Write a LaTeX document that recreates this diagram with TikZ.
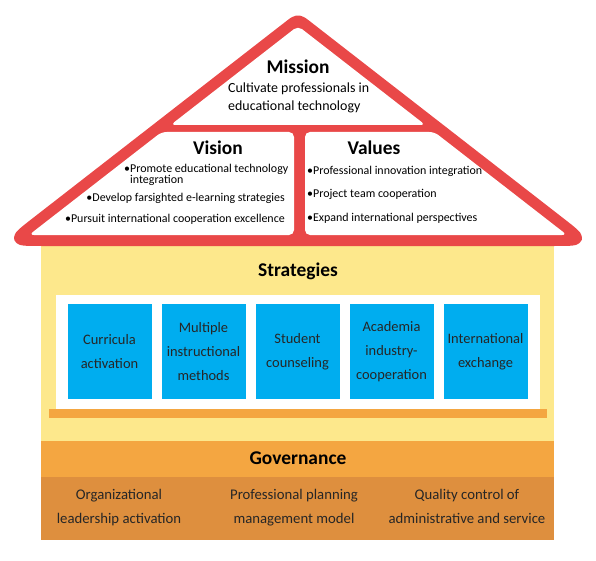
\documentclass[tikz,border=0pt]{standalone}
\usepackage{fontspec}
\setmainfont{Carlito}
\definecolor{roofred}{RGB}{233,72,72}
\definecolor{wallyellow}{RGB}{253,232,140}
\definecolor{govorange}{RGB}{244,166,65}
\definecolor{govdark}{RGB}{222,143,62}
\definecolor{boxblue}{RGB}{0,173,239}
\definecolor{txtgray}{RGB}{38,38,38}
\begin{document}
\begin{tikzpicture}[x=1bp,y=-1bp,
  title/.style={font=\fontsize{19.5}{22}\selectfont\bfseries, text=black, inner sep=0pt},
  body/.style={font=\fontsize{14}{18}\selectfont, text=black, inner sep=0pt},
  bul/.style={font=\fontsize{12}{13}\selectfont, text=black, inner sep=0pt},
  pillar/.style={fill=boxblue, minimum width=84bp, minimum height=95bp, inner sep=0pt, align=center, font=\fontsize{14.5}{24}\selectfont, text=txtgray},
  govtext/.style={font=\fontsize{14.8}{24}\selectfont, text=txtgray, align=center, inner sep=0pt},
  whitepart/.style={fill=white, rounded corners=5bp}]
\useasboundingbox (0,0) rectangle (596,561);
% walls
\fill[wallyellow] (41,246) rectangle (554,441);
\fill[white] (56,295) rectangle (540,409);
\fill[govorange] (49,409) rectangle (547,418);
\fill[govorange] (41,441) rectangle (554,477);
\fill[govdark] (41,477) rectangle (554,540);
% roof
\coordinate (A) at (298,19);
\coordinate (L) at (13,240.5);
\coordinate (R) at (583,240.5);
\draw[roofred, fill=roofred, line width=11bp, line join=round]
  (307,26) -- (560.1,222.7) .. controls (R) .. (554,240.5)
  -- (42,240.5) .. controls (L) .. (35.9,222.7)
  -- (289,26) .. controls (A) .. (307,26) -- cycle;
\fill[whitepart] (298,26) -- (425.4,125) -- (170.6,125) -- cycle;
\fill[whitepart] (161.6,132) -- (294,132) -- (294,235) -- (29,235) -- cycle;
\fill[whitepart] (305,132) -- (434.4,132) -- (567,235) -- (305,235) -- cycle;
% roof texts
\node[title] (mission) at (298,67) {Mission};
\node[body, align=left, anchor=west] (missiontxt) at (228,98) {Cultivate professionals in\\educational technology};
\node[title] (vision) at (218,148) {Vision};
\node[bul, anchor=west] (v1) at (124,169) {•Promote educational technology};
\node[bul, anchor=west] (v1b) at (130,180.5) {integration};
\node[bul, anchor=east] (v2) at (285,198) {•Develop farsighted e-learning strategies};
\node[bul, anchor=east] (v3) at (285,219) {•Pursuit international cooperation excellence};
\node[title] (values) at (374,148) {Values};
\node[bul, anchor=west] (w1) at (307,171) {•Professional innovation integration};
\node[bul, anchor=west] (w2) at (307,194) {•Project team cooperation};
\node[bul, anchor=west] (w3) at (307,218) {•Expand international perspectives};
% strategies
\node[title] (strategies) at (298,271) {Strategies};
\node[pillar] (p1) at (109.5,351.5) {Curricula\\activation};
\node[pillar] (p2) at (203.5,351.5) {Multiple\\instructional\\methods};
\node[pillar] (p3) at (297.5,351.5) {Student\\counseling};
\node[pillar] (p4) at (391.5,351.5) {Academia\\industry-\\cooperation};
\node[pillar] (p5) at (485.5,351.5) {International\\exchange};
% governance
\node[title] (governance) at (298,458.5) {Governance};
\node[govtext] (g1) at (119,506.5) {\strut Organizational\\\strut leadership activation};
\node[govtext] (g2) at (294,506.5) {\strut Professional planning\\\strut management model};
\node[govtext] (g3) at (467,506.5) {\strut Quality control of\\\strut administrative and service};
\end{tikzpicture}
\end{document}
